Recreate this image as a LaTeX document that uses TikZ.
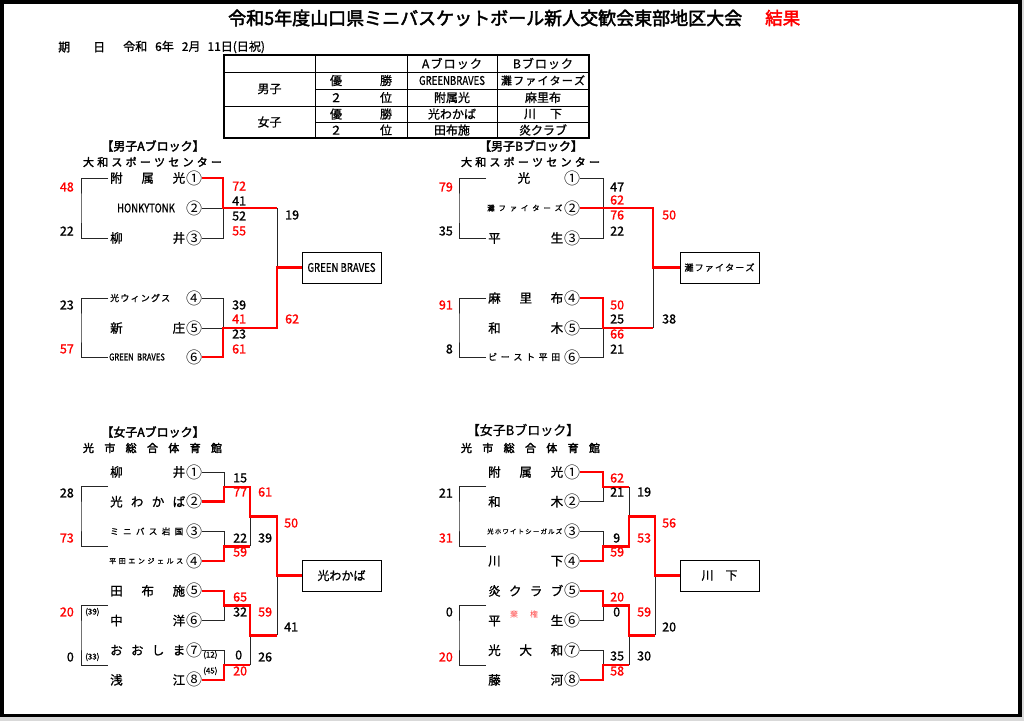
\documentclass[tikz,border=0pt]{standalone}
\usepackage{fontspec}
\setmainfont{Noto Sans CJK JP}[AutoFakeBold=2.5]
\newfontfamily\medfont{Noto Sans CJK JP}[FakeBold=1]
\newcommand{\spreadname}[2]{\makebox[#1][s]{\spaceskip=0pt plus 1fil\relax #2}}
\newcommand{\narrow}[1]{\scalebox{0.8}[1]{#1}}

\tikzset{
  lose/.style={draw=black!85,line width=1pt},
  win/.style={draw=red,line width=2.5pt},
  team/.style={anchor=west,inner sep=0pt,font=\medfont\fontsize{12.5}{13}\selectfont},
  cnum/.style={inner sep=0pt,font=\fontsize{16}{16}\selectfont},
  score/.style={anchor=west,inner sep=0pt,font=\medfont\fontsize{12.5}{13}\selectfont},
  lscore/.style={anchor=east,inner sep=0pt,font=\medfont\fontsize{12.5}{13}\selectfont},
  paren/.style={anchor=west,inner sep=0pt,font=\medfont\fontsize{8}{8}\selectfont},
  winbox/.style={draw=black,line width=1pt,minimum width=79pt,minimum height=31pt,inner sep=0pt},
  head/.style={inner sep=0pt,font=\bfseries\fontsize{12}{12}\selectfont},
  hall/.style={inner sep=0pt,font=\bfseries\fontsize{11}{11}\selectfont},
  cell/.style={inner sep=0pt,font=\medfont\fontsize{12}{12}\selectfont},
}

\begin{document}
\begin{tikzpicture}[x=1pt,y=-1pt]

  \useasboundingbox (0,0) rectangle (1024,721);
  \fill[black!15] (0,0) rectangle (1024,721);
  \fill[white] (2,2) rectangle (1020,715.5);
  \draw[line width=3.5pt] (1.8,1.8) rectangle (1020,715.5);

  % title and date
  \node[anchor=west,inner sep=0pt,font=\bfseries\fontsize{18}{18}\selectfont] (title) at (228,18) {令和5年度山口県ミニバスケットボール新人交歓会東部地区大会};
  \node[anchor=west,inner sep=0pt,text=red,font=\bfseries\fontsize{17.5}{18}\selectfont] (result) at (765,18) {結果};
  \node[anchor=west,inner sep=0pt,font=\medfont\fontsize{12}{12}\selectfont] (dateKey) at (58,47) {\spreadname{47pt}{期 日}};
  \node[anchor=west,inner sep=0pt,font=\medfont\fontsize{12}{12}\selectfont] (dateVal) at (123,47) {令和\hspace{8pt}6年\hspace{8pt}2月\hspace{7pt}11日(日祝)};

  % summary table
  \draw[line width=1.2pt] (224,55) rectangle (589,138);
  \draw[line width=0.8pt] (224,72) -- (589,72);
  \draw[line width=0.8pt] (224,106) -- (589,106);
  \draw[line width=0.8pt] (315,89) -- (589,89);
  \draw[line width=0.8pt] (315,122) -- (589,122);
  \draw[line width=0.8pt] (315,55) -- (315,138);
  \draw[line width=0.8pt] (407,55) -- (407,138);
  \draw[line width=0.8pt] (497,55) -- (497,138);
  \begin{scope}[every node/.style={cell}]
    \node (tbHa) at (452,63.5) {\spreadname{60pt}{A ブ ロ ッ ク}};
    \node (tbHb) at (543,63.5) {\spreadname{60pt}{B ブ ロ ッ ク}};
    \node (tbBoy) at (269.5,89) {男子};
    \node (tbGirl) at (269.5,122) {女子};
    \node (tbP1) at (361,80.5) {\spreadname{62pt}{優 勝}};
    \node (tbP2) at (361,97.5) {\spreadname{62pt}{２ 位}};
    \node (tbP3) at (361,114) {\spreadname{62pt}{優 勝}};
    \node (tbP4) at (361,130) {\spreadname{62pt}{２ 位}};
    \node (tbBA1) at (452,80.5) {\narrow{GREENBRAVES}};
    \node[font=\medfont\fontsize{11}{11}\selectfont] (tbBB1) at (543,80.5) {\spreadname{84pt}{灘 フ ァ イ タ ー ズ}};
    \node (tbBA2) at (452,97.5) {附属光};
    \node (tbBB2) at (543,97.5) {麻里布};
    \node (tbGA1) at (452,114) {光わかば};
    \node (tbGB1) at (543,114) {\spreadname{38pt}{川 下}};
    \node (tbGA2) at (452,130) {田布施};
    \node (tbGB2) at (543,130) {炎クラブ};
  \end{scope}

  % ---------------- 男子Aブロック
  \begin{scope}
    \node[head] (maHead) at (153,146) {【男子Aブロック】};
    \node[hall] (maHall) at (152.5,162) {\spreadname{139pt}{大 和 ス ポ ー ツ セ ン タ ー}};

    \begin{scope}[every node/.style={team}]
      \node (maT1) at (110,178) {\spreadname{75pt}{附 属 光}};
      \node[anchor=center,font=\medfont\fontsize{12}{12}\selectfont] (maT2) at (146,208) {\narrow{HONKYTONK}};
      \node (maT3) at (110,238) {\spreadname{75pt}{柳 井}};
      \node[font=\medfont\fontsize{9}{9}\selectfont] (maT4) at (110,298) {\spreadname{60pt}{光 ウ ィ ン グ ス}};
      \node (maT5) at (110,328) {\spreadname{75pt}{新 庄}};
      \node[font=\medfont\fontsize{9.5}{10}\selectfont] (maT6) at (109,357) {\narrow{GREEN\ \ BRAVES}};
    \end{scope}

    \begin{scope}[every node/.style={cnum}]
      \node (ma1) at (194,178) {①};
      \node (ma2) at (194,208) {②};
      \node (ma3) at (194,238) {③};
      \node (ma4) at (194,298) {④};
      \node (ma5) at (194,328) {⑤};
      \node (ma6) at (194,357) {⑥};
    \end{scope}

    \node[winbox,font=\medfont\fontsize{12}{12}\selectfont] (maBox) at (341.5,267.5) {\narrow{GREEN\ BRAVES}};

    \coordinate (maJ1) at (223,208);
    \coordinate (maK1) at (277,208);
    \coordinate (maJ2) at (223,328);
    \coordinate (maK2) at (277,328);
    \coordinate (maF)  at (277,267.5);
    \coordinate (maLa) at (108,178);
    \coordinate (maLb) at (108,238);
    \coordinate (maLv) at (81,208);
    \coordinate (maLc) at (108,298);
    \coordinate (maLd) at (108,357);
    \coordinate (maLw) at (81,328);

    \draw[lose] (maLa) -| (maLv) |- (maLb);
    \draw[lose] (maLc) -| (maLw) |- (maLd);
    \draw[lose] (ma2.east) -- (maJ1);
    \draw[lose] (ma3.east) -| (maJ1);
    \draw[lose] (maK1) -- (maF);
    \draw[lose] (ma4.east) -| (maJ2);
    \draw[lose] (ma5.east) -- (maJ2);
    \draw[win] (ma1.east) -| (maJ1) -- (maK1);
    \draw[win] (ma6.east) -| (maJ2) -- (maK2) -- (maF) -- (maBox.west);

    \begin{scope}[every node/.style={score}]
      \node[red] (maS1) at (232,186) {72};
      \node (maS2) at (232,201) {41};
      \node (maS3) at (232,216) {52};
      \node[red] (maS4) at (232,231) {55};
      \node (maS5) at (285,215) {19};
      \node (maS6) at (232,305) {39};
      \node[red] (maS7) at (232,319) {41};
      \node (maS8) at (232,334) {23};
      \node[red] (maS9) at (232,349) {61};
      \node[red] (maS10) at (285,319) {62};
    \end{scope}
    \begin{scope}[every node/.style={lscore}]
      \node[red] (maL1) at (74,187) {48};
      \node (maL2) at (74,231) {22};
      \node (maL3) at (74,305) {23};
      \node[red] (maL4) at (74,349) {57};
    \end{scope}
  \end{scope}

  % ---------------- 男子Bブロック
  \begin{scope}[xshift=378pt]
    \node[head] (mbHead) at (153,146) {【男子Bブロック】};
    \node[hall] (mbHall) at (152.5,162) {\spreadname{139pt}{大 和 ス ポ ー ツ セ ン タ ー}};

    \begin{scope}[every node/.style={team}]
      \node[anchor=center] (mbT1) at (146,178) {光};
      \node[font=\medfont\fontsize{7.5}{8}\selectfont] (mbT2) at (109,208) {\spreadname{75pt}{灘 フ ァ イ タ ー ズ}};
      \node (mbT3) at (110,238) {\spreadname{75pt}{平 生}};
      \node (mbT4) at (110,298) {\spreadname{75pt}{麻 里 布}};
      \node (mbT5) at (110,328) {\spreadname{75pt}{和 木}};
      \node[font=\medfont\fontsize{9}{9}\selectfont] (mbT6) at (110,357) {\spreadname{72pt}{ビ ー ス ト 平 田}};
    \end{scope}

    \begin{scope}[every node/.style={cnum}]
      \node (mb1) at (194,178) {①};
      \node (mb2) at (194,208) {②};
      \node (mb3) at (194,238) {③};
      \node (mb4) at (194,298) {④};
      \node (mb5) at (194,328) {⑤};
      \node (mb6) at (194,357) {⑥};
    \end{scope}

    \node[winbox,font=\medfont\fontsize{9}{9}\selectfont] (mbBox) at (341.5,267.5) {\spreadname{70pt}{灘 フ ァ イ タ ー ズ}};

    \coordinate (mbJ1) at (225,208);
    \coordinate (mbK1) at (275,208);
    \coordinate (mbJ2) at (225,328);
    \coordinate (mbK2) at (275,328);
    \coordinate (mbF)  at (275,267.5);
    \coordinate (mbLa) at (108,178);
    \coordinate (mbLb) at (108,238);
    \coordinate (mbLv) at (81,208);
    \coordinate (mbLc) at (108,298);
    \coordinate (mbLd) at (108,357);
    \coordinate (mbLw) at (81,328);

    \draw[lose] (mbLa) -| (mbLv) |- (mbLb);
    \draw[lose] (mbLc) -| (mbLw) |- (mbLd);
    \draw[lose] (mb1.east) -| (mbJ1) |- (mb3.east);
    \draw[lose] (mb5.east) -- (mbJ2);
    \draw[lose] (mb6.east) -| (mbJ2);
    \draw[lose] (mbK2) -- (mbF);
    \draw[win] (mb2.east) -- (mbK1) -- (mbF) -- (mbBox.west);
    \draw[win] (mb4.east) -| (mbJ2) -- (mbK2);

    \begin{scope}[every node/.style={score}]
      \node (mbS1) at (232,187) {47};
      \node[red] (mbS2) at (232,200) {62};
      \node[red] (mbS3) at (232,215) {76};
      \node (mbS4) at (232,231) {22};
      \node[red] (mbS5) at (284,215) {50};
      \node[red] (mbS6) at (232,305) {50};
      \node (mbS7) at (232,319) {25};
      \node[red] (mbS8) at (232,334) {66};
      \node (mbS9) at (232,349) {21};
      \node (mbS10) at (284,319) {38};
    \end{scope}
    \begin{scope}[every node/.style={lscore}]
      \node[red] (mbL1) at (75,187) {79};
      \node (mbL2) at (75,231) {35};
      \node[red] (mbL3) at (75,305) {91};
      \node (mbL4) at (75,349) {8};
    \end{scope}
  \end{scope}

  % ---------------- 女子Aブロック
  \begin{scope}
    \node[head] (waHead) at (153,432) {【女子Aブロック】};
    \node[hall] (waHall) at (152.5,448) {\spreadname{139pt}{光 市 総 合 体 育 館}};

    \begin{scope}[every node/.style={team}]
      \node (waT1) at (110,472) {\spreadname{75pt}{柳 井}};
      \node (waT2) at (110,501.7) {\spreadname{75pt}{光 わ か ば}};
      \node[font=\medfont\fontsize{8.5}{9}\selectfont] (waT3) at (110,531.4) {\spreadname{73pt}{ミ ニ バ ス 岩 国}};
      \node[font=\medfont\fontsize{7}{7}\selectfont] (waT4) at (109,561.1) {\spreadname{74pt}{平 田 エ ン ジ ェ ル ス}};
      \node (waT5) at (110,590.8) {\spreadname{75pt}{田 布 施}};
      \node (waT6) at (110,620.5) {\spreadname{75pt}{中 洋}};
      \node (waT7) at (110,650.2) {\spreadname{75pt}{お お し ま}};
      \node (waT8) at (110,679.9) {\spreadname{75pt}{浅 江}};
    \end{scope}

    \begin{scope}[every node/.style={cnum}]
      \node (wa1) at (194,472) {①};
      \node (wa2) at (194,501.7) {②};
      \node (wa3) at (194,531.4) {③};
      \node (wa4) at (194,561.1) {④};
      \node (wa5) at (194,590.8) {⑤};
      \node (wa6) at (194,620.5) {⑥};
      \node (wa7) at (194,650.2) {⑦};
      \node (wa8) at (194,679.9) {⑧};
    \end{scope}

    \node[winbox,font=\medfont\fontsize{12}{12}\selectfont] (waBox) at (341.5,575.5) {光わかば};

    \coordinate (waJ1) at (224,486.9);
    \coordinate (waK1) at (250,486.9);
    \coordinate (waJ2) at (224,546.3);
    \coordinate (waK2) at (250,546.3);
    \coordinate (waJ3) at (224,605.7);
    \coordinate (waK3) at (250,605.7);
    \coordinate (waJ4) at (224,665.1);
    \coordinate (waK4) at (250,665.1);
    \coordinate (waL1) at (250,516.6);
    \coordinate (waM1) at (277,516.6);
    \coordinate (waL2) at (250,635.4);
    \coordinate (waM2) at (277,635.4);
    \coordinate (waF)  at (277,575.5);
    \coordinate (waLa) at (108,486.9);
    \coordinate (waLb) at (108,546.3);
    \coordinate (waLv) at (81,516.6);
    \coordinate (waLc) at (108,605.7);
    \coordinate (waLd) at (108,665.1);
    \coordinate (waLw) at (81,635.4);

    \draw[lose] (waLa) -| (waLv) |- (waLb);
    \draw[lose] (waLc) -| (waLw) |- (waLd);
    \draw[lose] (wa1.east) -| (waJ1);
    \draw[lose] (wa3.east) -| (waJ2);
    \draw[lose] (wa6.east) -| (waJ3);
    \draw[lose] (wa7.east) -| (waJ4);
    \draw[lose] (waK2) -- (waL1);
    \draw[lose] (waK4) -- (waL2);
    \draw[lose] (waM2) -- (waF);
    \draw[win] (wa2.east) -| (waJ1) -- (waK1) -- (waL1) -- (waM1) -- (waF) -- (waBox.west);
    \draw[win] (wa4.east) -| (waJ2) -- (waK2);
    \draw[win] (wa5.east) -| (waJ3) -- (waK3) -- (waL2) -- (waM2);
    \draw[win] (wa8.east) -| (waJ4) -- (waK4);

    \begin{scope}[every node/.style={score}]
      \node (waS1) at (233,478) {15};
      \node[red] (waS2) at (233,492) {77};
      \node (waS3) at (233,538) {22};
      \node[red] (waS4) at (233,552) {59};
      \node[red] (waS5) at (233,597) {65};
      \node (waS6) at (233,612) {32};
      \node (waS7) at (235,655) {0};
      \node[red] (waS8) at (233,671) {20};
      \node[red] (waS9) at (258,492) {61};
      \node (waS10) at (258,538) {39};
      \node[red] (waS11) at (258,612) {59};
      \node (waS12) at (258,657) {26};
      \node[red] (waS13) at (284,523) {50};
      \node (waS14) at (284,627) {41};
    \end{scope}
    \begin{scope}[every node/.style={lscore}]
      \node (waL1n) at (74,493) {28};
      \node[red] (waL2n) at (74,538) {73};
      \node[red] (waL3n) at (74,612) {20};
      \node (waL4n) at (74,657) {0};
    \end{scope}
    \begin{scope}[every node/.style={paren}]
      \node (waP1) at (85,612) {(39)};
      \node (waP2) at (85,657) {(33)};
      \node (waP3) at (203,655) {(12)};
      \node (waP4) at (203,671) {(45)};
    \end{scope}
  \end{scope}

  % ---------------- 女子Bブロック
  \begin{scope}[xshift=378pt]
    \node[inner sep=0pt,font=\medfont\fontsize{13}{13}\selectfont] (wbHead) at (145,430) {【女子Bブロック】};
    \node[hall] (wbHall) at (152.5,448) {\spreadname{139pt}{光 市 総 合 体 育 館}};

    \begin{scope}[every node/.style={team}]
      \node (wbT1) at (110,472) {\spreadname{75pt}{附 属 光}};
      \node (wbT2) at (110,501.7) {\spreadname{75pt}{和 木}};
      \node[font=\medfont\fontsize{6.5}{7}\selectfont] (wbT3) at (109,531.4) {\spreadname{75pt}{光 ホ ワ イ ト シ ー ガ ル ズ}};
      \node (wbT4) at (110,561.1) {\spreadname{75pt}{川 下}};
      \node (wbT5) at (110,590.8) {\spreadname{75pt}{炎 ク ラ ブ}};
      \node (wbT6) at (110,620.5) {\spreadname{75pt}{平 生}};
      \node (wbT7) at (110,650.2) {\spreadname{75pt}{光 大 和}};
      \node (wbT8) at (110,679.9) {\spreadname{75pt}{藤 河}};
    \end{scope}
    \node[inner sep=0pt,text=red!70,font=\fontsize{8}{8}\selectfont] (wbAbs) at (146,614) {\spreadname{28pt}{棄 権}};

    \begin{scope}[every node/.style={cnum}]
      \node (wb1) at (194,472) {①};
      \node (wb2) at (194,501.7) {②};
      \node (wb3) at (194,531.4) {③};
      \node (wb4) at (194,561.1) {④};
      \node (wb5) at (194,590.8) {⑤};
      \node (wb6) at (194,620.5) {⑥};
      \node (wb7) at (194,650.2) {⑦};
      \node (wb8) at (194,679.9) {⑧};
    \end{scope}

    \node[winbox,font=\medfont\fontsize{12}{12}\selectfont] (wbBox) at (341.5,575.5) {\spreadname{36pt}{川 下}};

    \coordinate (wbJ1) at (225,486.9);
    \coordinate (wbK1) at (251,486.9);
    \coordinate (wbJ2) at (225,546.3);
    \coordinate (wbK2) at (251,546.3);
    \coordinate (wbJ3) at (225,605.7);
    \coordinate (wbK3) at (251,605.7);
    \coordinate (wbJ4) at (225,665.1);
    \coordinate (wbK4) at (251,665.1);
    \coordinate (wbL1) at (251,516.6);
    \coordinate (wbM1) at (277,516.6);
    \coordinate (wbL2) at (251,635.4);
    \coordinate (wbM2) at (277,635.4);
    \coordinate (wbF)  at (277,575.5);
    \coordinate (wbLa) at (108,486.9);
    \coordinate (wbLb) at (108,546.3);
    \coordinate (wbLv) at (81,516.6);
    \coordinate (wbLc) at (108,605.7);
    \coordinate (wbLd) at (108,665.1);
    \coordinate (wbLw) at (81,635.4);

    \draw[lose] (wbLa) -| (wbLv) |- (wbLb);
    \draw[lose] (wbLc) -| (wbLw) |- (wbLd);
    \draw[lose] (wb2.east) -| (wbJ1);
    \draw[lose] (wb3.east) -| (wbJ2);
    \draw[lose] (wb6.east) -| (wbJ3);
    \draw[lose] (wb7.east) -| (wbJ4);
    \draw[lose] (wbK1) -- (wbL1);
    \draw[lose] (wbK4) -- (wbL2);
    \draw[lose] (wbM2) -- (wbF);
    \draw[win] (wb1.east) -| (wbJ1) -- (wbK1);
    \draw[win] (wb4.east) -| (wbJ2) -- (wbK2) -- (wbL1) -- (wbM1) -- (wbF) -- (wbBox.west);
    \draw[win] (wb5.east) -| (wbJ3) -- (wbK3) -- (wbL2) -- (wbM2);
    \draw[win] (wb8.east) -| (wbJ4) -- (wbK4);

    \begin{scope}[every node/.style={score}]
      \node[red] (wbS1) at (232,478) {62};
      \node (wbS2) at (232,492) {21};
      \node (wbS3) at (235,538) {9};
      \node[red] (wbS4) at (232,552) {59};
      \node[red] (wbS5) at (232,597) {20};
      \node (wbS6) at (235,612) {0};
      \node (wbS7) at (232,656) {35};
      \node[red] (wbS8) at (232,671) {58};
      \node (wbS9) at (259,492) {19};
      \node[red] (wbS10) at (259,538) {53};
      \node[red] (wbS11) at (259,612) {59};
      \node (wbS12) at (259,656) {30};
      \node[red] (wbS13) at (284,523) {56};
      \node (wbS14) at (284,627) {20};
    \end{scope}
    \begin{scope}[every node/.style={lscore}]
      \node (wbL1n) at (75,493) {21};
      \node[red] (wbL2n) at (75,538) {31};
      \node (wbL3n) at (75,612) {0};
      \node[red] (wbL4n) at (75,657) {20};
    \end{scope}
  \end{scope}

\end{tikzpicture}
\end{document}
